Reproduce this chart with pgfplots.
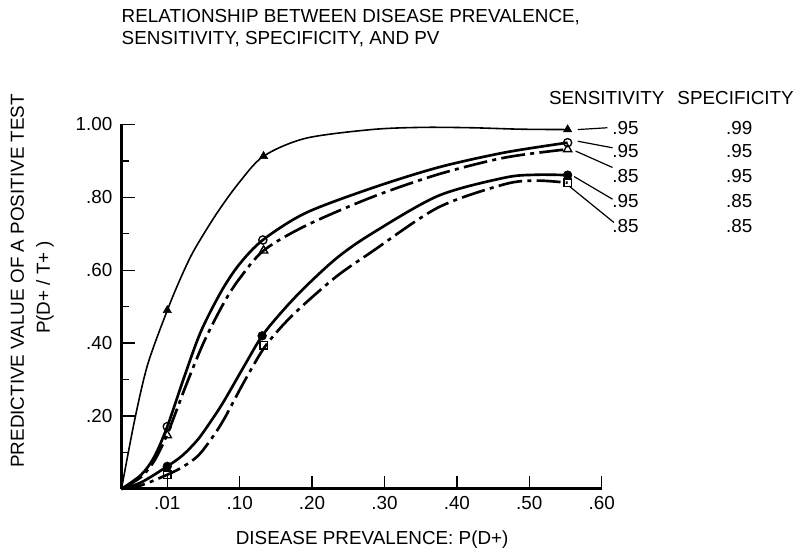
\documentclass[border=0pt]{standalone}
\usepackage{fontspec}
\setmainfont{Liberation Sans}
\usepackage{pgfplots}
\pgfplotsset{compat=1.18}
\begin{document}
\fontsize{14.2}{16.3}\selectfont
\begin{tikzpicture}
\begin{axis}[
 scale only axis, width=362.2pt, height=274.5pt,
 xmin=-0.0633, xmax=0.601, ymin=0, ymax=1,
 axis x line=bottom, axis y line=left,
 axis line style={-, line width=2.2pt},
 clip=false,
 xtick={0,0.1,0.2,0.3,0.4,0.5,0.6},
 xticklabels={.01,.10,.20,.30,.40,.50,.60},
 ytick={0.2,0.4,0.6,0.8,1.0},
 yticklabels={.20,.40,.60,.80,1.00},
 minor ytick={0.1,0.3,0.5,0.7,0.9},
 tick align=inside,
 major tick length=10pt, minor tick length=6pt,
 tick style={black, line width=1pt},
 /pgf/number format/assume math mode=true,
 yticklabel style={xshift=-2pt},
 xticklabel style={yshift=-1pt},
]
% Sens .95 / Spec .99
\addplot[black, line width=1.2pt, smooth, tension=0.5] coordinates {
(-0.0633,0) (-0.045,0.19) (-0.027,0.342) (0,0.49) (0.019,0.581) (0.037,0.655) (0.068,0.755) (0.099,0.84) (0.133,0.913) (0.191,0.962) (0.282,0.986) (0.351,0.992) (0.42,0.991) (0.488,0.987) (0.553,0.986)};
\addplot[only marks, mark=triangle*, mark size=3.6pt, black] coordinates {(0,0.49) (0.133,0.913) (0.553,0.986)};
% Sens .95 / Spec .95
\addplot[black, line width=2pt, smooth, tension=0.5] coordinates {
(-0.0633,0) (-0.036,0.039) (-0.018,0.088) (0,0.171) (0.023,0.305) (0.046,0.43) (0.074,0.54) (0.099,0.615) (0.132,0.683) (0.191,0.757) (0.282,0.825) (0.374,0.882) (0.466,0.923) (0.553,0.95)};
% Sens .85 / Spec .95
\addplot[black, line width=2pt, smooth, tension=0.5, dash pattern=on 18pt off 4pt on 3pt off 4pt] coordinates {
(-0.0633,0) (-0.036,0.033) (-0.018,0.077) (0,0.15) (0.026,0.285) (0.051,0.405) (0.078,0.51) (0.099,0.575) (0.133,0.654) (0.191,0.722) (0.282,0.80) (0.374,0.863) (0.466,0.909) (0.553,0.932)};
% Sens .95 / Spec .85
\addplot[black, line width=2pt, smooth, tension=0.5] coordinates {
(-0.0633,0) (-0.036,0.018) (0,0.062) (0.021,0.092) (0.042,0.135) (0.06,0.185) (0.078,0.24) (0.105,0.333) (0.131,0.42) (0.16,0.49) (0.191,0.555) (0.235,0.635) (0.282,0.70) (0.374,0.804) (0.466,0.854) (0.51,0.862) (0.553,0.861)};
% Sens .85 / Spec .85
\addplot[black, line width=2pt, smooth, tension=0.5, dash pattern=on 18pt off 4pt on 3pt off 4pt] coordinates {
(-0.0633,0) (-0.036,0.01) (0,0.039) (0.021,0.06) (0.042,0.09) (0.06,0.135) (0.078,0.19) (0.105,0.29) (0.133,0.385) (0.16,0.45) (0.191,0.51) (0.235,0.585) (0.282,0.65) (0.374,0.772) (0.466,0.836) (0.51,0.846) (0.553,0.84)};
% markers
\addplot[only marks, mark=o, mark size=3.1pt, black, mark options={fill=white, line width=1pt}] coordinates {(0,0.171) (0.132,0.683) (0.553,0.95)};
\addplot[only marks, mark=triangle, mark size=3.6pt, black, mark options={fill=white, line width=1pt}] coordinates {(0,0.147) (0.133,0.654) (0.553,0.932)};
\addplot[only marks, mark=*, mark size=3.3pt, black] coordinates {(0,0.062) (0.131,0.42) (0.553,0.861)};
\addplot[only marks, mark=square, mark size=2.8pt, black, mark options={fill=white, line width=1pt}] coordinates {(0,0.039) (0.133,0.394) (0.553,0.84)};
% leader lines
\draw[line width=0.9pt] (axis cs:0.567,0.986) -- (axis cs:0.608,0.991);
\draw[line width=0.9pt] (axis cs:0.567,0.954) -- (axis cs:0.615,0.936);
\draw[line width=0.9pt] (axis cs:0.564,0.927) -- (axis cs:0.615,0.882);
\draw[line width=0.9pt] (axis cs:0.562,0.857) -- (axis cs:0.615,0.795);
\draw[line width=0.9pt] (axis cs:0.555,0.831) -- (axis cs:0.617,0.731);
% labels
\node at (axis cs:0.607,1.073) {SENSITIVITY};
\node at (axis cs:0.785,1.073) {SPECIFICITY};
\node at (axis cs:0.633,0.991) {.95};
\node at (axis cs:0.633,0.927) {.95};
\node at (axis cs:0.633,0.859) {.85};
\node at (axis cs:0.633,0.790) {.95};
\node at (axis cs:0.633,0.722) {.85};
\node at (axis cs:0.790,0.991) {.99};
\node at (axis cs:0.790,0.927) {.95};
\node at (axis cs:0.790,0.859) {.95};
\node at (axis cs:0.790,0.790) {.85};
\node at (axis cs:0.790,0.722) {.85};
% titles
\node[anchor=base west, inner sep=0pt] at (axis cs:-0.0633,1.28) {RELATIONSHIP BETWEEN DISEASE PREVALENCE,};
\node[anchor=base west, inner sep=0pt] at (axis cs:-0.0633,1.219) {SENSITIVITY, SPECIFICITY, AND PV};
\node[rotate=90] at (axis cs:-0.207,0.571) {PREDICTIVE VALUE OF A POSITIVE TEST};
\node[rotate=90] at (axis cs:-0.169,0.553) {P(D+ / T+ )};
\node at (axis cs:0.283,-0.138) {DISEASE PREVALENCE: P(D+)};
\path (axis cs:-0.2311,-0.1776) rectangle (axis cs:0.8693,1.3415);
\end{axis}
\end{tikzpicture}
\end{document}
